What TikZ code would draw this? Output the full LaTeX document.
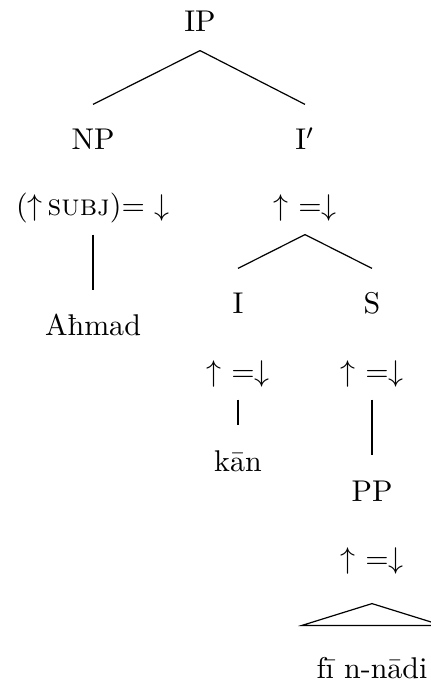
\documentclass[tikz,border=0pt]{standalone}
\usepackage{fontspec}
\usepackage{tikz}
\usetikzlibrary{calc}
\tikzset{
	catnode/.style={
			anchor=base,
			inner xsep=1pt,
			inner ysep=4pt,
			text height=7pt,
			text depth=2pt
		},
	annonode/.style={
			catnode
		}
}

\begin{document}
\begin{tikzpicture}[x=0.3333pt, y=-0.3333pt]
				\useasboundingbox (0,0) rectangle (431,689);

				\node[catnode] (ip) at (200,32) {IP};
				\node[catnode] (np) at (93,150) {NP};
				\node[catnode] (ibar) at (305,150) {I$'$};

				\node[annonode] (npann) at (93,216) {($\uparrow$\,\textsc{subj})= $\downarrow$};
				\node[annonode] (ibarann) at (305,216) {$\uparrow$ =$\downarrow$};

				\node[catnode] (ahmad) at (93,336) {Aħmad};
				\node[catnode] (i) at (238,314) {I};
				\node[catnode] (s) at (372,314) {S};

				\node[annonode] (iann) at (238,381) {$\uparrow$ =$\downarrow$};
				\node[annonode] (sann) at (372,381) {$\uparrow$ =$\downarrow$};

				\node[catnode] (kan) at (238,471) {kān};
				\node[catnode] (pp) at (372,501) {PP};
				\node[annonode] (ppann) at (372,568) {$\uparrow$ =$\downarrow$};
				\node[catnode] (finadi) at (372,678) {fī n-nādi};

				\draw (ip.south) -- ([yshift=4pt]np.north);
				\draw (ip.south) -- ([yshift=4pt]ibar.north);
				\draw (npann.south) -- ([yshift=4pt]ahmad.north);
				\draw (ibarann.south) -- ([yshift=4pt]i.north);
				\draw (ibarann.south) -- ([yshift=4pt]s.north);
				\draw (iann.south) -- ([yshift=4pt]kan.north);
				\draw (sann.south) -- ([yshift=4pt]pp.north);

				\coordinate (roof) at ($(ppann.south)+(0,17)$);
				\draw (roof) -- ($(finadi.north)+(-70,-19)$) -- ($(finadi.north)+(70,-19)$) -- cycle;

			\end{tikzpicture}
\end{document}
